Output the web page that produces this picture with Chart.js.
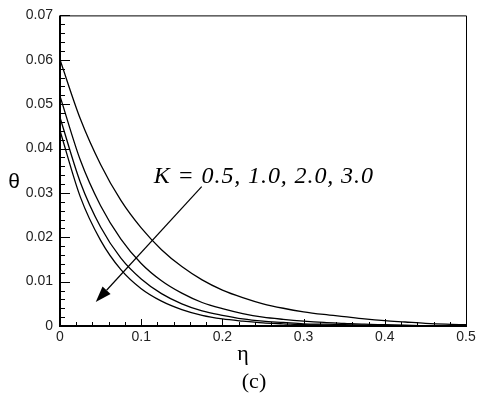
<!DOCTYPE html>
<html>
<head>
<meta charset="utf-8">
<script src="https://cdn.jsdelivr.net/npm/chart.js@4.4.1/dist/chart.umd.min.js"></script>
<style>
  html, body { margin: 0; padding: 0; background: #fff; }
  #wrap { width: 480px; height: 395px; position: relative; }
</style>
</head>
<body>
<div id="wrap"><canvas id="chart" width="480" height="395"></canvas></div>
<script>
// eta positions along the x axis
var etaValues = [0, 0.025, 0.05, 0.075, 0.1, 0.125, 0.15, 0.175, 0.2, 0.225, 0.25,
  0.275, 0.3, 0.325, 0.35, 0.375, 0.4, 0.425, 0.45, 0.475, 0.5];

// theta for each K
var thetaK05 = [0.0600, 0.0467, 0.0364, 0.0283, 0.0221, 0.0172, 0.0134, 0.0104, 0.0081, 0.0064, 0.0050,
  0.0040, 0.0032, 0.0026, 0.0021, 0.0016, 0.0012, 0.0009, 0.0006, 0.0004, 0.0003];
var thetaK10 = [0.0518, 0.0374, 0.0271, 0.0196, 0.0141, 0.0102, 0.0074, 0.0053, 0.0039, 0.0028, 0.0020,
  0.0015, 0.0011, 0.0008, 0.0006, 0.0004, 0.0003, 0.0002, 0.0001, 0.0001, 0.0001];
var thetaK20 = [0.0470, 0.0324, 0.0223, 0.0153, 0.0106, 0.0073, 0.0050, 0.0034, 0.0024, 0.0016, 0.0011,
  0.0008, 0.0005, 0.0004, 0.0003, 0.0002, 0.0001, 0.0001, 0, 0, 0];
var thetaK30 = [0.0440, 0.0291, 0.0193, 0.0127, 0.0084, 0.0056, 0.0037, 0.0024, 0.0016, 0.0011, 0.0007,
  0.0005, 0.0003, 0.0002, 0.0001, 0.0001, 0.0001, 0, 0, 0, 0];

var xTicks = [0, 0.1, 0.2, 0.3, 0.4, 0.5];
var yTicks = [0, 0.01, 0.02, 0.03, 0.04, 0.05, 0.06, 0.07];

var annotationText = "K = 0.5, 1.0, 2.0, 3.0";

function toPoints(ys) {
  return etaValues.map(function (x, i) { return { x: x, y: ys[i] }; });
}

function lineSet(ys) {
  return {
    data: toPoints(ys),
    borderColor: "#000",
    borderWidth: 1.3,
    pointRadius: 0,
    fill: false,
    cubicInterpolationMode: "monotone",
  };
}

// frame, inward ticks, titles and arrow annotation
var decorPlugin = {
  id: "decor",
  afterDraw: function (chart) {
    var ctx = chart.ctx;
    var a = chart.chartArea;
    var xs = chart.scales.x;
    var ys = chart.scales.y;
    ctx.save();
    ctx.strokeStyle = "#000";

    // thin top/right
    ctx.lineWidth = 1;
    ctx.beginPath();
    ctx.moveTo(a.left, a.top + 0.5);
    ctx.lineTo(a.right + 0.5, a.top + 0.5);
    ctx.lineTo(a.right + 0.5, a.bottom);
    ctx.stroke();
    // thick left/bottom
    ctx.lineWidth = 2;
    ctx.beginPath();
    ctx.moveTo(a.left, a.top);
    ctx.lineTo(a.left, a.bottom);
    ctx.lineTo(a.right + 1, a.bottom);
    ctx.stroke();

    ctx.lineWidth = 1;
    var i, v, p;
    // x ticks, pointing up into the plot
    for (i = 0; i <= 25; i++) {
      v = i * 0.02;
      p = Math.round(xs.getPixelForValue(v)) + 0.5;
      var lx = (i % 5 === 0) ? 7 : 4;
      ctx.beginPath();
      ctx.moveTo(p, a.bottom);
      ctx.lineTo(p, a.bottom - lx);
      ctx.stroke();
    }
    // y ticks, pointing right into the plot
    for (i = 0; i <= 35; i++) {
      v = i * 0.002;
      p = Math.round(ys.getPixelForValue(v)) + 0.5;
      var ly = (i % 5 === 0) ? 10 : 5;
      ctx.beginPath();
      ctx.moveTo(a.left, p);
      ctx.lineTo(a.left + ly, p);
      ctx.stroke();
    }

    // axis titles and caption
    ctx.fillStyle = "#000";
    ctx.textAlign = "center";
    ctx.textBaseline = "middle";
    ctx.font = "21px 'Liberation Sans', sans-serif";
    ctx.fillText("\u03b8", 14, 182);
    ctx.font = "22px 'Liberation Serif', serif";
    ctx.fillText("\u03b7", 243, 354);
    ctx.font = "22px 'Liberation Serif', serif";
    ctx.fillText("(c)", 254, 382);

    // annotation text
    ctx.font = "italic 24px 'Liberation Serif', serif";
    ctx.letterSpacing = "0.9px";
    ctx.textAlign = "left";
    ctx.textBaseline = "alphabetic";
    ctx.fillText(annotationText, xs.getPixelForValue(0.1155), ys.getPixelForValue(0.0322));
    ctx.letterSpacing = "0px";

    // arrow
    var x0 = xs.getPixelForValue(0.1745), y0 = ys.getPixelForValue(0.0314);
    var x1 = xs.getPixelForValue(0.044), y1 = ys.getPixelForValue(0.0054);
    var ang = Math.atan2(y1 - y0, x1 - x0);
    var hl = 16, hw = 5.5;
    var bx = x1 - hl * Math.cos(ang), by = y1 - hl * Math.sin(ang);
    ctx.lineWidth = 1.2;
    ctx.beginPath();
    ctx.moveTo(x0, y0);
    ctx.lineTo(bx, by);
    ctx.stroke();
    ctx.beginPath();
    ctx.moveTo(x1, y1);
    ctx.lineTo(bx + hw * Math.sin(ang), by - hw * Math.cos(ang));
    ctx.lineTo(bx - hw * Math.sin(ang), by + hw * Math.cos(ang));
    ctx.closePath();
    ctx.fill();

    ctx.restore();
  },
};

var tickFont = { family: "'Liberation Sans', Arial, sans-serif", size: 14 };

new Chart(document.getElementById("chart"), {
  type: "line",
  data: {
    datasets: [lineSet(thetaK05), lineSet(thetaK10), lineSet(thetaK20), lineSet(thetaK30)],
  },
  options: {
    responsive: false,
    animation: false,
    layout: { padding: { top: 12, right: 14, left: 0, bottom: 0 } },
    plugins: { legend: { display: false }, tooltip: { enabled: false } },
    scales: {
      x: {
        type: "linear",
        min: 0,
        max: 0.5,
        afterBuildTicks: function (s) { s.ticks = xTicks.map(function (v) { return { value: v }; }); },
        afterFit: function (s) { s.height = 69; },
        grid: { display: false, drawTicks: false },
        border: { display: false },
        ticks: {
          color: "#222",
          font: tickFont,
          padding: 3,
          maxRotation: 0,
          callback: function (v) { return String(v); },
        },
      },
      y: {
        type: "linear",
        min: 0,
        max: 0.07,
        afterBuildTicks: function (s) { s.ticks = yTicks.map(function (v) { return { value: v }; }); },
        afterFit: function (s) { s.width = 60; },
        grid: { display: false, drawTicks: false },
        border: { display: false },
        ticks: {
          color: "#222",
          font: tickFont,
          padding: 7,
          callback: function (v) { return String(Math.round(v * 100) / 100); },
        },
      },
    },
  },
  plugins: [decorPlugin],
});
</script>
</body>
</html>
